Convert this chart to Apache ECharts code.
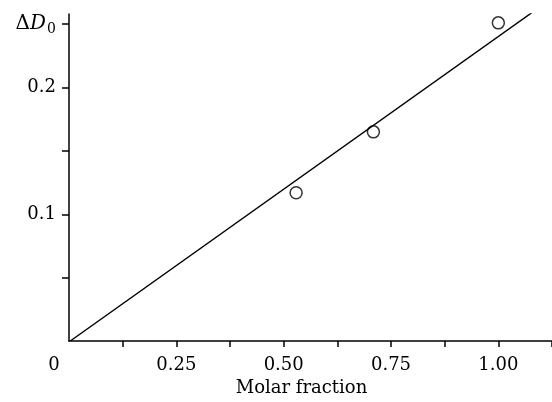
<!DOCTYPE html>
<html>
<head>
<meta charset="utf-8">
<script src="https://cdn.jsdelivr.net/npm/echarts@6/dist/echarts.min.js"></script>
<style>
  html, body { margin: 0; padding: 0; background: #fff; }
  #main { width: 552px; height: 402px; }
</style>
</head>
<body>
<div id="main"></div>
<script>
// measured points
var molarFraction = [0.529, 0.709, 1.0]
var deltaD0 = [0.117, 0.165, 0.251]
// fitted straight line
var fitX = [0.003, 1.078]
var fitY = [0, 0.259]
// ticks
var xTicks = [0.125, 0.25, 0.375, 0.5, 0.625, 0.75, 0.875, 1.0, 1.125]
var xLabels = [0, 0.25, 0.5, 0.75, 1.0]
var yTicks = [0.05, 0.1, 0.15, 0.2, 0.25]
var yLabels = [0.1, 0.2, 0.25]

var font = 'DejaVu Serif'
var myChart = echarts.init(document.getElementById('main'))

var points = []
for (var i = 0; i < molarFraction.length; i++) {
    points.push([molarFraction[i], deltaD0[i]])
}
var line = []
for (var j = 0; j < fitX.length; j++) {
    line.push([fitX[j], fitY[j]])
}

var option = {
    animation: false,
    backgroundColor: '#fff',
    grid: { left: 69, right: 0, top: 14, bottom: 60 },
    xAxis: {
        type: 'value',
        min: 0,
        max: 1.125,
        name: 'Molar fraction',
        nameLocation: 'middle',
        nameGap: 38,
        nameTextStyle: { fontFamily: font, fontSize: 18, color: '#000', padding: [0, 18, 0, 0] },
        splitLine: { show: false },
        axisLine: { lineStyle: { color: '#000', width: 1.5 } },
        axisTick: { show: true, customValues: xTicks, length: 6, lineStyle: { color: '#000', width: 1.5 } },
        axisLabel: {
            customValues: xLabels,
            margin: 15,
            fontFamily: font,
            fontSize: 18,
            color: '#000',
            formatter: function (v) {
                if (v === 0) return '{z|0}'
                return v.toFixed(2)
            },
            rich: { z: { fontFamily: font, fontSize: 18, color: '#000', padding: [0, 30, 0, 0] } }
        }
    },
    yAxis: {
        type: 'value',
        min: 0,
        max: 0.258,
        splitLine: { show: false },
        axisLine: { lineStyle: { color: '#000', width: 1.5 } },
        axisTick: { show: true, customValues: yTicks, length: 7, lineStyle: { color: '#000', width: 1.5 } },
        axisLabel: {
            customValues: yLabels,
            margin: 13,
            fontFamily: font,
            fontSize: 18,
            color: '#000',
            formatter: function (v) {
                if (v > 0.24) return '{d|Δ}{i|D}{s|0}'
                return v.toFixed(1)
            },
            rich: {
                d: { fontFamily: font, fontSize: 20, color: '#000' },
                i: { fontFamily: font, fontSize: 20, fontStyle: 'italic', color: '#000' },
                s: { fontFamily: font, fontSize: 14, color: '#000', padding: [10, 0, 0, 1] }
            }
        }
    },
    series: [
        {
            type: 'line',
            data: line,
            symbol: 'none',
            lineStyle: { color: '#000', width: 1.5 }
        },
        {
            type: 'scatter',
            data: points,
            symbol: 'circle',
            symbolSize: 12,
            itemStyle: { color: '#fff', borderColor: '#000', borderWidth: 1.5 }
        }
    ]
}
myChart.setOption(option)
</script>
</body>
</html>
